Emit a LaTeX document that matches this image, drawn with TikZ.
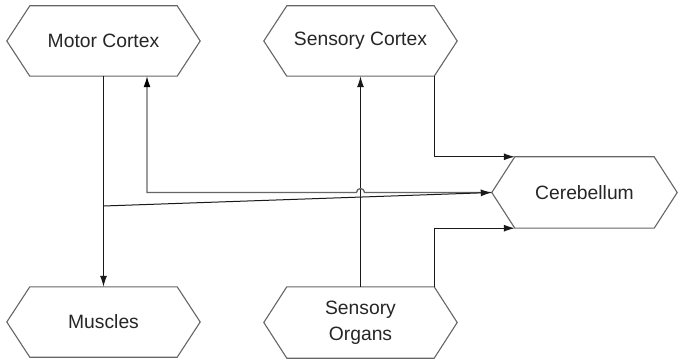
\documentclass[tikz,border=0pt]{standalone}
\usepackage{fontspec}
\setmainfont{Liberation Sans}
\usetikzlibrary{arrows.meta,calc}
\newcommand{\hexshape}[1]{\draw[hexline] (#1.west) -- ([xshift=23pt]#1.north west) -- ([xshift=-23pt]#1.north east) -- (#1.east) -- ([xshift=-23pt]#1.south east) -- ([xshift=23pt]#1.south west) -- cycle;}
\begin{document}
\begin{tikzpicture}[x=1pt,y=1pt,
  hexbox/.style={minimum width=193pt,minimum height=70pt,inner sep=0pt,align=center,font=\fontsize{19.3}{26}\selectfont,text=black!85},
  hexline/.style={draw=black!60,line width=1.1pt},
  arr/.style={-{Latex[length=11pt,width=7pt]},line width=1pt,draw=black!90},
  grayarr/.style={-{Latex[length=11pt,width=7pt,color=black]},draw=black!60,line width=1.3pt}
]
\fill[white] (0,0) rectangle (678,362);
\useasboundingbox (0,0) rectangle (678,362);
\node[hexbox] (mc) at (103.5,321) {Motor Cortex};
\node[hexbox] (sc) at (360.5,321) {Sensory Cortex};
\node[hexbox,minimum width=185pt,minimum height=71pt] (cb) at (584.5,169.5) {Cerebellum};
\node[hexbox] (mu) at (103.5,40) {Muscles};
\node[hexbox,minimum height=71pt] (so) at (360.5,39.5) {Sensory\\Organs};
\hexshape{mc}
\hexshape{sc}
\hexshape{cb}
\hexshape{mu}
\hexshape{so}
\coordinate (mcR) at ([xshift=43.5pt]mc.south);
\coordinate (split) at (103.5,156);
% Motor Cortex -> Muscles
\draw[arr] (mc.south) -- (mu.north);
% Sensory Organs -> Sensory Cortex
\draw[arr] (so.north) -- (sc.south);
% Cerebellum -> Motor Cortex (with hop)
\draw[grayarr] (cb.west) -- ([xshift=4pt]cb.west -| so.north) arc (0:180:4pt) -- (cb.west -| mcR) -- (mcR);
% split -> Cerebellum
\draw[arr] (split) -- (cb.west);
% Sensory Cortex -> Cerebellum
\draw[arr] ([xshift=-23pt]sc.south east) |- ([xshift=23pt]cb.north west);
% Sensory Organs -> Cerebellum
\draw[arr] ([xshift=-23pt]so.north east) |- ([xshift=23pt]cb.south west);
\end{tikzpicture}
\end{document}
